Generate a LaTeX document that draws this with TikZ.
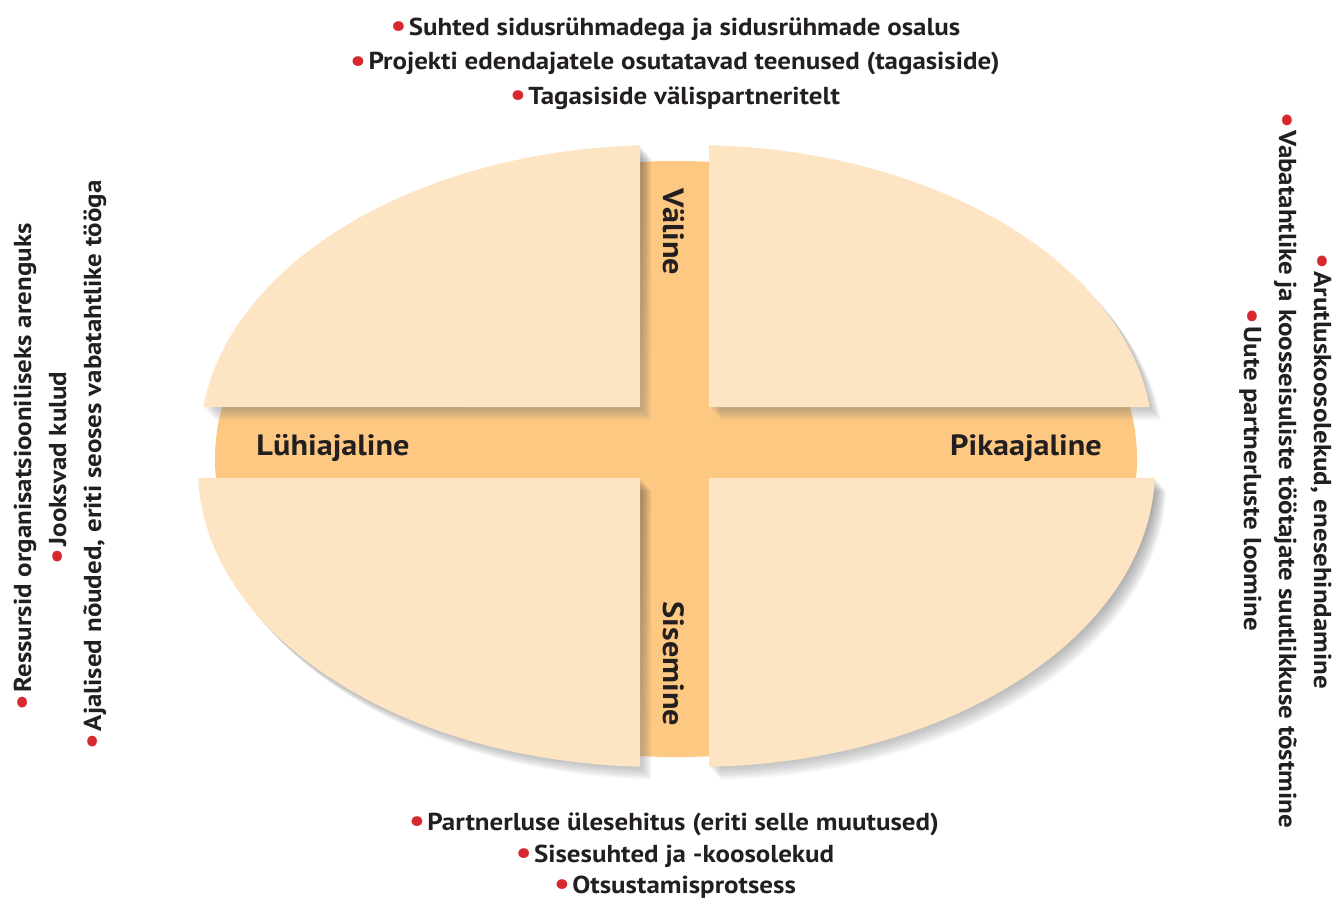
\documentclass[tikz,border=0pt]{standalone}
\usepackage{graphicx}
\usepackage{fontspec}
\setmainfont{PT Sans}[FakeStretch=1.1]
\usepackage{tikz}
\definecolor{band}{HTML}{FDC882}
\definecolor{peach}{HTML}{FDE4C3}
\definecolor{dotred}{HTML}{D7282F}
\definecolor{ink}{HTML}{231F20}
\definecolor{shade}{HTML}{2B3650}
\newcommand{\rdot}{{\color{dotred}\raisebox{-0.08em}{\scalebox{1.3}{•}}}\hspace{0.1em}}

\begin{document}
\begin{tikzpicture}[x=1pt,y=-1pt,
  axislabel/.style={font=\fontsize{29.3}{34}\selectfont\bfseries, text=ink, inner sep=0pt},
  item/.style={font=\fontsize{24.5}{28}\selectfont\bfseries, text=ink, inner sep=0pt}]
\useasboundingbox (0,0) rectangle (1336,903);
% the orange cross behind
\fill[band] (676,459) ellipse [x radius=461, y radius=298];
% soft shadows of the four pieces
\foreach \xc/\yc/\ye/\aa/\ab in {640/407/145.3/267.39/186.94, 709/407/145.2/272.11/353.06,
    640/478/766.7/92.36/178.27, 709/478/766.8/88.14/1.73}
  \foreach \k in {1,...,8}
    \fill[shade, opacity=0.035, shift={(\k*1.4,\k*1.6)}]
      (\xc,\yc) -- (\xc,\ye) arc [start angle=\aa, end angle=\ab, x radius=461, y radius=298] -- cycle;
% the four pieces
\foreach \xc/\yc/\ye/\aa/\ab in {640/407/145.3/267.39/186.94, 709/407/145.2/272.11/353.06,
    640/478/766.7/92.36/178.27, 709/478/766.8/88.14/1.73}
  \fill[peach] (\xc,\yc) -- (\xc,\ye) arc [start angle=\aa, end angle=\ab, x radius=461, y radius=298] -- cycle;

\node[axislabel, rotate=-90] (valine) at (674,232) {Väline};
\node[axislabel, rotate=-90] (sisemine) at (674,664) {Sisemine};
\node[axislabel, anchor=base] (luhi) at (333,455) {Lühiajaline};
\node[axislabel, anchor=base] (pika) at (1026,455) {Pikaajaline};

\node[item, anchor=base] (top1) at (675.5,35) {\rdot Suhted sidusrühmadega ja sidusrühmade osalus};
\node[item, anchor=base] (top2) at (675,69.5) {\rdot Projekti edendajatele osutatavad teenused (tagasiside)};
\node[item, anchor=base] (top3) at (675,104) {\rdot Tagasiside välispartneritelt};

\node[item, anchor=base] (bot1) at (674,830) {\rdot Partnerluse ülesehitus (eriti selle muutused)};
\node[item, anchor=base] (bot2) at (675,862) {\rdot Sisesuhted ja -koosolekud};
\node[item, anchor=base] (bot3) at (675,893) {\rdot Otsustamisprotsess};

\node[item, anchor=base, rotate=90] (left1) at (31,467) {\rdot Ressursid organisatsiooniliseks arenguks};
\node[item, anchor=base, rotate=90] (left2) at (66,468) {\rdot Jooksvad kulud};
\node[item, anchor=base, rotate=90] (left3) at (101,465) {\rdot Ajalised nõuded, eriti seoses vabatahtlike tööga};

\node[item, anchor=base, rotate=-90] (right1) at (1314,471) {\rdot Arutluskoosolekud, enesehindamine};
\node[item, anchor=base, rotate=-90] (right2) at (1279,470) {\rdot Vabatahtlike ja koosseisuliste töötajate suutlikkuse tõstmine};
\node[item, anchor=base, rotate=-90] (right3) at (1244,470) {\rdot Uute partnerluste loomine};
\end{tikzpicture}
\end{document}
